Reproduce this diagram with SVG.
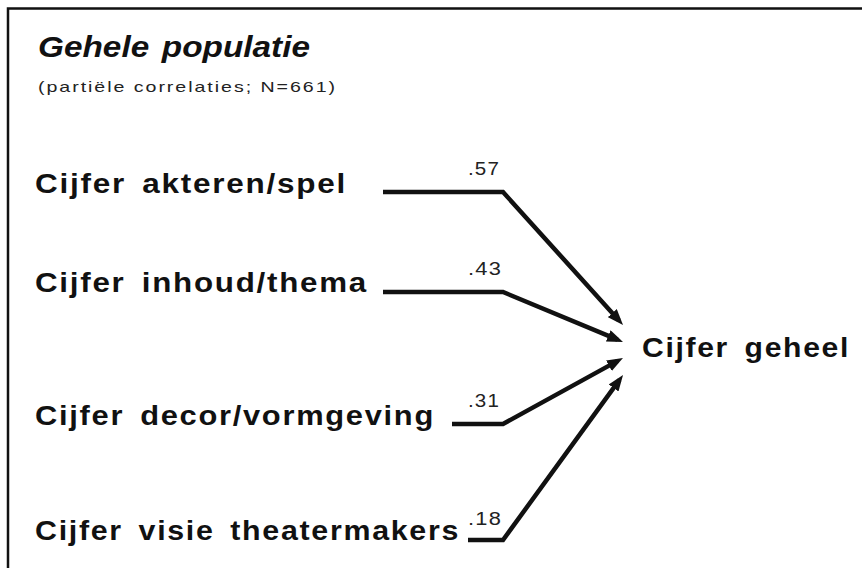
<svg xmlns="http://www.w3.org/2000/svg" width="862" height="568" viewBox="0 0 862 568">
<style>
.lbl{font-family:"Liberation Sans",Arial,sans-serif;font-weight:bold;font-size:27px;letter-spacing:1.5px;word-spacing:5px;fill:#111}
.title{font-family:"Liberation Sans",Arial,sans-serif;font-weight:bold;font-style:italic;font-size:30px;word-spacing:3px;fill:#111}
.sub{font-family:"Liberation Sans",Arial,sans-serif;font-size:15px;letter-spacing:1.5px;fill:#222}
.num{font-family:"Liberation Sans",Arial,sans-serif;font-size:18px;letter-spacing:1px;fill:#222}
.conn{fill:none;stroke:#111;stroke-width:4.5;stroke-linejoin:miter}
</style>
<defs>
<marker id="ah" markerUnits="userSpaceOnUse" viewBox="0 0 16 12" markerWidth="16" markerHeight="12" refX="10" refY="6" orient="auto">
<path d="M0,0 L16,6 L0,12 z" fill="#111"/>
</marker>
</defs>
<rect width="862" height="568" fill="#fff"/>
<rect x="8" y="8.5" width="900" height="600" fill="none" stroke="#111" stroke-width="2.5"/>
<g id="title">
<text class="title" x="38" y="57" textLength="272" lengthAdjust="spacingAndGlyphs">Gehele populatie</text>
<text class="sub" x="38" y="92" textLength="299" lengthAdjust="spacingAndGlyphs">(partiële correlaties; N=661)</text>
</g>
<g id="n-akteren"><text class="lbl" x="35" y="193" textLength="312" lengthAdjust="spacingAndGlyphs">Cijfer akteren/spel</text></g>
<g id="n-inhoud"><text class="lbl" x="35" y="292" textLength="333" lengthAdjust="spacingAndGlyphs">Cijfer inhoud/thema</text></g>
<g id="n-decor"><text class="lbl" x="35" y="425" textLength="400" lengthAdjust="spacingAndGlyphs">Cijfer decor/vormgeving</text></g>
<g id="n-visie"><text class="lbl" x="35" y="540" textLength="425" lengthAdjust="spacingAndGlyphs">Cijfer visie theatermakers</text></g>
<g id="n-geheel"><text class="lbl" x="642" y="357" textLength="208" lengthAdjust="spacingAndGlyphs">Cijfer geheel</text></g>
<g id="connectors">
<path class="conn" d="M383,192 H503 L619,320.5" marker-end="url(#ah)"/>
<path class="conn" d="M383,292 H503 L617.5,339.7" marker-end="url(#ah)"/>
<path class="conn" d="M452,424 H503 L617.7,360.9" marker-end="url(#ah)"/>
<path class="conn" d="M468,540 H503 L619.5,379.9" marker-end="url(#ah)"/>
<text class="num" x="468" y="175" textLength="32" lengthAdjust="spacingAndGlyphs">.57</text>
<text class="num" x="468" y="275" textLength="34" lengthAdjust="spacingAndGlyphs">.43</text>
<text class="num" x="468" y="407" textLength="32" lengthAdjust="spacingAndGlyphs">.31</text>
<text class="num" x="468" y="525" textLength="34" lengthAdjust="spacingAndGlyphs">.18</text>
</g>
</svg>
